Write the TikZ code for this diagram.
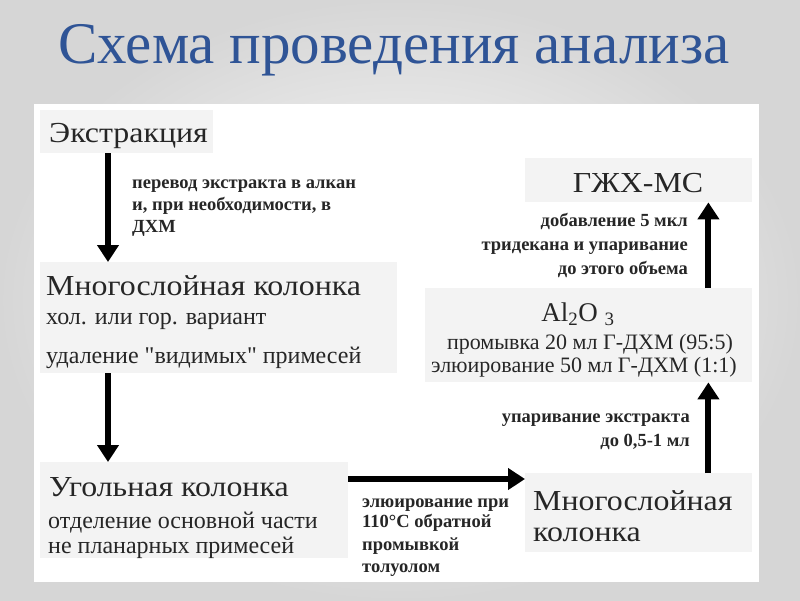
\documentclass[tikz,border=0pt]{standalone}
\usepackage{fontspec}
\setmainfont{Liberation Serif}
\newfontfamily\plainserif{Liberation Serif}
\newcommand{\sq}{{\plainserif\symbol{34}}}
\usetikzlibrary{arrows.meta,calc}
\definecolor{titleblue}{RGB}{47,84,150}
\definecolor{boxgray}{RGB}{243,243,243}
\tikzset{
  box/.style={fill=boxgray, draw=none, inner sep=0pt, anchor=north west},
  flow/.style={line width=6pt, -{Triangle[width=21pt,length=17pt]}},
  txt/.style={inner sep=0pt, anchor=base west, text=black!85},
  big/.style={txt, font=\fontsize{29}{32}\selectfont\addfontfeature{FakeStretch=1.1}},
  mid/.style={txt, font=\fontsize{24}{28}\selectfont},
  alf/.style={txt, anchor=center, font=\fontsize{22}{26}\selectfont},
  lbl/.style={txt, font=\bfseries\fontsize{18.5}{22}\selectfont},
  lblr/.style={lbl, anchor=base east},
}
\begin{document}
\begin{tikzpicture}[x=1pt,y=-1pt]
\useasboundingbox (0,0) rectangle (800,600);
\shade[inner color=white, outer color=black!16] (0,0) rectangle (800,600);
\fill[white] (34,104) rectangle (759,582);
% title
\node[inner sep=0pt, anchor=base, text=titleblue, font=\fontsize{59}{64}\selectfont] (title) at (394,63) {Схема проведения анализа};
% boxes
\node[box, minimum width=173pt, minimum height=43pt] (extr) at (40,110) {};
\node[box, minimum width=357pt, minimum height=111pt] (mlk) at (40,262) {};
\node[box, minimum width=308pt, minimum height=96pt] (ugl) at (40,462) {};
\node[box, minimum width=227pt, minimum height=79pt] (ml2) at (525,473) {};
\node[box, minimum width=327pt, minimum height=94pt] (al) at (425,288) {};
\node[box, minimum width=227pt, minimum height=44pt] (gc) at (525,158) {};
% box texts
\node[big] (t1) at (49,142) {Экстракция};
\node[big] (t2) at (46,295) {Многослойная колонка};
\node[mid] (t3) at (46,324) {хол. или гор. вариант};
\node[mid] (t4) at (46,363) {удаление \sq видимых\sq{} примесей};
\node[big] (t5) at (49,496) {Угольная колонка};
\node[mid] (t6) at (48,528) {отделение основной части};
\node[mid] (t7) at (48,553) {не планарных примесей};
\node[big] (t8) at (533,510) {Многослойная};
\node[big] (t9) at (533,541) {колонка};
\node[txt, anchor=center, font=\fontsize{27}{30}\selectfont] (t10) at (578,314) {Al\textsubscript{2}O \textsubscript{3}};
\node[alf] (t11) at (590,344) {промывка 20 мл Г-ДХМ (95:5)};
\node[alf] (t12) at (584,367) {элюирование 50 мл Г-ДХМ (1:1)};
\node[big, anchor=base] (t13) at (638,192) {ГЖХ-МС};
% labels
\node[lbl] (l1) at (132,188) {перевод экстракта в алкан};
\node[lbl] (l2) at (132,210) {и, при необходимости, в};
\node[lbl] (l3) at (132,232) {ДХМ};
\node[lbl] (l4) at (362,507) {элюирование при};
\node[lbl] (l5) at (362,527) {110°C обратной};
\node[lbl] (l6) at (362,550) {промывкой};
\node[lbl] (l7) at (362,572) {толуолом};
\node[lblr] (l8) at (690,422) {упаривание экстракта};
\node[lblr] (l9) at (690,446) {до 0,5-1 мл};
\node[lblr] (l10) at (688,226) {добавление 5 мкл};
\node[lblr] (l11) at (688,250) {тридекана и упаривание};
\node[lblr] (l12) at (688,274) {до этого объема};
% arrows
\coordinate (a1) at ([xshift=68pt]extr.south west);
\draw[flow] (a1) -- (a1 |- mlk.north);
\coordinate (a2) at ([xshift=68pt]mlk.south west);
\draw[flow] (a2) -- (a2 |- ugl.north);
\coordinate (a3) at ([yshift=-17pt]ugl.north east);
\draw[flow] (a3) -- (a3 -| ml2.west);
\coordinate (a4) at ([xshift=-44pt]ml2.north east);
\draw[flow] (a4) -- (a4 |- al.south);
\coordinate (a5) at ([xshift=-44pt]al.north east);
\draw[flow] (a5) -- (a5 |- gc.south);
\end{tikzpicture}
\end{document}
